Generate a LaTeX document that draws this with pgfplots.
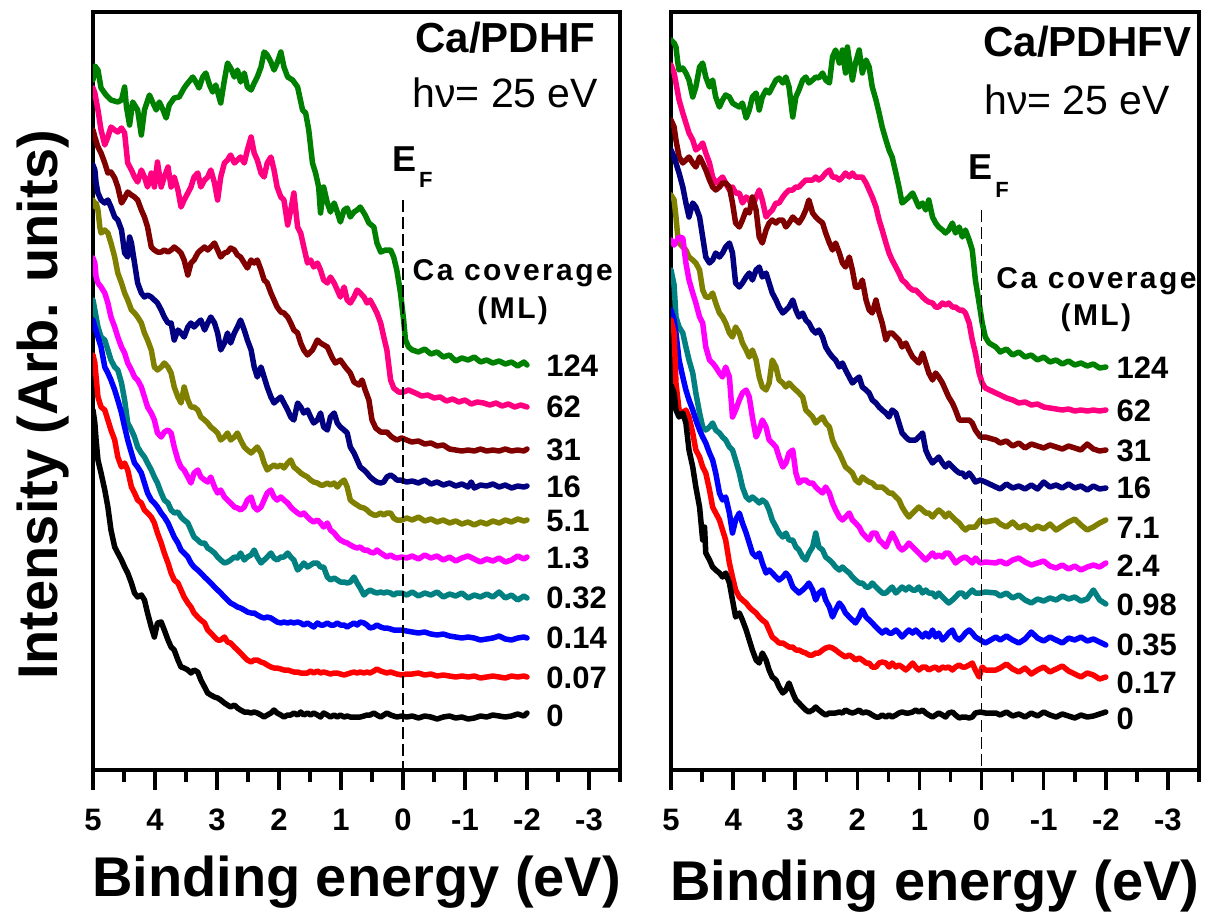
\documentclass[border=0pt]{standalone}
\usepackage{fontspec}
\setmainfont{Liberation Sans}
\newfontfamily\spacedsans{Liberation Sans}[LetterSpace=8]
\usepackage{pgfplots}
\pgfplotsset{compat=1.18}

\definecolor{cvgreen}{RGB}{0,128,0}
\definecolor{cvpink}{RGB}{255,0,128}
\definecolor{cvmaroon}{RGB}{128,0,0}
\definecolor{cvnavy}{RGB}{0,0,128}
\definecolor{cvolive}{RGB}{128,128,0}
\definecolor{cvmagenta}{RGB}{255,0,255}
\definecolor{cvteal}{RGB}{0,128,128}
\definecolor{cvblue}{RGB}{0,0,255}
\definecolor{cvred}{RGB}{255,0,0}

\newcommand{\fs}[1]{\fontsize{#1pt}{#1pt}\selectfont}

% common look of both valence-band panels (offset spectra, no intensity scale)
\pgfplotsset{
  spectrum/.style={
    scale only axis,
    height=758pt,
    xmin=-3.5, xmax=5, x dir=reverse,
    ymin=12, ymax=770, y dir=reverse,
    axis line style={line width=3.5pt},
    xtick={5,4,3,2,1,0,-1,-2,-3},
    xticklabels={5,4,3,2,1,0,-1,-2,-3},
    minor xtick={4.5,3.5,2.5,1.5,0.5,-0.5,-1.5,-2.5,-3.5},
    xtick pos=left,
    ytick=\empty,
    tick align=outside,
    major tick length=20pt,
    minor tick length=12pt,
    tick style={line width=3.5pt, black},
    xticklabel style={font=\bfseries\fs{31}, inner sep=0pt, anchor=north, yshift=-19pt},
    xlabel={Binding energy (eV)},
    xlabel style={anchor=base, font=\bfseries\fs{56}},
  },
}
\tikzset{
  specline/.style={line width=5.5pt, line join=round, line cap=round, mark=none},
  covlabel/.style={anchor=west, font=\bfseries\fs{31}, inner sep=0pt},
  covhead/.style={font=\spacedsans\bfseries\fs{30}},
  fermi/.style={black, line width=1.3pt, dash pattern=on 12pt off 5pt},
}

\begin{document}
\begin{tikzpicture}
\useasboundingbox (0,0) rectangle (1209pt,918pt);

% ---------------- Ca/PDHF ----------------
\begin{axis}[spectrum, at={(93pt,148pt)}, anchor=south west, width=527pt,
  xlabel style={at={(axis description cs:0.5,-0.1675)}},
  ylabel={Intensity (Arb. units)},
  ylabel style={at={(axis description cs:-0.0664,0.4815)}, anchor=base, font=\bfseries\fs{56}}]

\addplot[cvgreen, specline] coordinates {(5.00,80) (4.97,66) (4.92,70) (4.87,88) (4.79,95) (4.71,100) (4.60,102) (4.54,100) (4.49,87) (4.46,107) (4.41,125) (4.36,102) (4.28,110) (4.22,135) (4.17,110) (4.09,95) (4.04,102) (3.98,110) (3.93,102) (3.87,110) (3.82,118) (3.77,105) (3.69,98) (3.61,97) (3.53,88) (3.47,83) (3.39,77) (3.34,82) (3.29,88) (3.23,77) (3.18,73) (3.12,85) (3.07,92) (3.02,85) (2.94,103) (2.88,80) (2.83,63) (2.78,68) (2.72,77) (2.67,70) (2.62,82) (2.56,73) (2.51,87) (2.45,90) (2.40,83) (2.35,77) (2.29,67) (2.24,52) (2.19,55) (2.13,62) (2.08,70) (2.03,63) (1.97,52) (1.92,67) (1.86,77) (1.78,80) (1.70,87) (1.62,110) (1.57,113) (1.52,130) (1.46,163) (1.41,173) (1.36,187) (1.33,213) (1.28,187) (1.22,203) (1.17,212) (1.11,203) (1.06,212) (1.01,222) (0.95,210) (0.90,208) (0.85,217) (0.79,212) (0.74,210) (0.69,207) (0.61,215) (0.55,223) (0.47,227) (0.42,243) (0.36,252) (0.28,250) (0.20,250) (0.15,257) (0.10,270) (0.04,293) (-0.01,320) (-0.04,340) (-0.09,347) (-0.15,350) (-0.25,352) (-0.35,349) (-0.45,354) (-0.55,352) (-0.65,357) (-0.75,355) (-0.85,361) (-0.95,358) (-1.05,360) (-1.15,357) (-1.25,362) (-1.35,360) (-1.45,363) (-1.55,361) (-1.65,364) (-1.75,362) (-1.85,366) (-1.95,362) (-2.00,365)};

\addplot[cvpink, specline] coordinates {(5.00,88) (4.97,93) (4.92,110) (4.87,130) (4.81,145) (4.76,137) (4.71,127) (4.65,130) (4.60,132) (4.54,128) (4.49,133) (4.44,163) (4.38,170) (4.33,177) (4.28,182) (4.22,170) (4.17,177) (4.12,187) (4.06,173) (4.01,187) (3.96,162) (3.90,187) (3.85,177) (3.79,167) (3.74,187) (3.69,177) (3.63,190) (3.58,207) (3.53,200) (3.47,193) (3.42,187) (3.37,177) (3.31,173) (3.26,187) (3.20,180) (3.15,177) (3.10,170) (3.04,183) (2.99,200) (2.94,177) (2.88,163) (2.83,160) (2.78,155) (2.72,163) (2.67,160) (2.62,157) (2.56,163) (2.51,150) (2.45,137) (2.40,153) (2.35,160) (2.29,173) (2.24,177) (2.19,163) (2.13,157) (2.08,170) (2.03,187) (1.97,197) (1.92,200) (1.86,225) (1.81,210) (1.76,193) (1.70,227) (1.65,233) (1.60,247) (1.54,263) (1.49,260) (1.44,267) (1.38,263) (1.33,270) (1.28,280) (1.22,283) (1.17,277) (1.11,283) (1.06,290) (1.01,297) (0.95,287) (0.90,300) (0.85,303) (0.79,297) (0.74,290) (0.69,293) (0.63,297) (0.58,303) (0.53,300) (0.47,307) (0.42,313) (0.36,323) (0.31,337) (0.26,350) (0.20,380) (0.15,388) (0.07,392) (-0.01,392) (-0.09,390) (-0.20,393) (-0.30,396) (-0.40,395) (-0.50,398) (-0.60,397) (-0.70,401) (-0.80,399) (-0.90,402) (-1.00,400) (-1.10,404) (-1.20,402) (-1.30,403) (-1.40,405) (-1.50,403) (-1.60,406) (-1.70,404) (-1.80,407) (-1.90,405) (-2.00,407)};

\addplot[cvmaroon, specline] coordinates {(5.00,130) (4.97,137) (4.92,147) (4.87,153) (4.81,163) (4.76,173) (4.71,172) (4.65,178) (4.60,187) (4.54,203) (4.49,198) (4.44,192) (4.38,195) (4.33,197) (4.28,200) (4.22,210) (4.17,217) (4.12,227) (4.06,247) (4.01,250) (3.96,252) (3.90,252) (3.85,250) (3.79,252) (3.74,250) (3.69,247) (3.63,250) (3.58,253) (3.53,260) (3.47,275) (3.42,263) (3.37,260) (3.31,253) (3.26,250) (3.20,247) (3.15,250) (3.10,247) (3.04,243) (2.99,250) (2.94,257) (2.88,253) (2.83,252) (2.78,248) (2.72,250) (2.67,255) (2.62,257) (2.56,263) (2.51,268) (2.45,260) (2.40,263) (2.35,260) (2.29,270) (2.24,280) (2.19,283) (2.13,293) (2.08,300) (2.03,307) (1.97,312) (1.92,313) (1.86,317) (1.81,323) (1.76,330) (1.70,333) (1.65,343) (1.60,350) (1.54,355) (1.46,350) (1.38,340) (1.33,343) (1.22,347) (1.14,358) (1.09,363) (1.01,360) (0.93,367) (0.85,373) (0.79,382) (0.71,385) (0.66,380) (0.61,390) (0.55,400) (0.50,420) (0.44,428) (0.36,432) (0.26,432) (0.18,437) (0.10,440) (0.02,438) (-0.06,440) (-0.14,442) (-0.25,441) (-0.35,444) (-0.45,443) (-0.55,446) (-0.65,445) (-0.75,449) (-0.85,450) (-0.95,451) (-1.05,450) (-1.15,451) (-1.25,449) (-1.35,451) (-1.45,450) (-1.55,451) (-1.65,449) (-1.75,451) (-1.85,450) (-1.95,451) (-2.00,449)};

\addplot[cvnavy, specline] coordinates {(5.00,165) (4.97,170) (4.95,183) (4.92,193) (4.87,200) (4.81,203) (4.76,200) (4.71,207) (4.65,217) (4.60,220) (4.54,230) (4.49,253) (4.44,257) (4.41,237) (4.38,243) (4.33,263) (4.28,283) (4.22,293) (4.17,297) (4.12,295) (4.06,297) (4.01,300) (3.96,303) (3.90,310) (3.85,317) (3.79,323) (3.74,323) (3.69,340) (3.63,330) (3.58,333) (3.53,337) (3.47,327) (3.42,323) (3.37,327) (3.31,323) (3.26,320) (3.20,330) (3.15,323) (3.10,317) (3.04,323) (2.99,333) (2.94,350) (2.88,343) (2.83,333) (2.78,343) (2.72,333) (2.67,327) (2.62,320) (2.56,330) (2.51,340) (2.45,350) (2.40,367) (2.35,377) (2.29,367) (2.24,377) (2.19,387) (2.13,397) (2.08,403) (2.03,400) (1.97,397) (1.92,403) (1.86,410) (1.81,417) (1.76,420) (1.70,403) (1.65,407) (1.60,413) (1.54,410) (1.49,417) (1.44,423) (1.38,420) (1.33,413) (1.28,427) (1.22,430) (1.17,417) (1.11,413) (1.06,423) (1.01,427) (0.95,430) (0.90,433) (0.85,447) (0.79,453) (0.74,460) (0.69,467) (0.63,470) (0.58,473) (0.53,477) (0.47,480) (0.42,482) (0.36,483) (0.31,482) (0.26,477) (0.20,475) (0.15,477) (0.10,480) (0.04,480) (-0.06,482) (-0.15,481) (-0.25,483) (-0.35,480) (-0.45,484) (-0.55,482) (-0.65,485) (-0.75,483) (-0.85,486) (-0.95,484) (-1.05,487) (-1.10,482) (-1.15,488) (-1.25,485) (-1.35,486) (-1.45,484) (-1.55,487) (-1.65,485) (-1.75,488) (-1.85,486) (-1.95,487) (-2.00,486)};

\addplot[cvolive, specline] coordinates {(5.00,200) (4.97,207) (4.95,203) (4.92,210) (4.89,227) (4.87,233) (4.81,230) (4.76,233) (4.71,243) (4.65,257) (4.60,273) (4.54,283) (4.49,293) (4.44,300) (4.38,310) (4.33,313) (4.28,317) (4.22,323) (4.17,333) (4.12,340) (4.06,350) (4.01,367) (3.96,370) (3.90,367) (3.85,363) (3.79,367) (3.74,373) (3.69,387) (3.63,397) (3.58,403) (3.53,387) (3.47,400) (3.42,407) (3.37,407) (3.31,410) (3.26,417) (3.20,420) (3.15,423) (3.10,427) (3.04,430) (2.99,433) (2.94,440) (2.88,437) (2.83,433) (2.78,440) (2.72,437) (2.67,433) (2.62,440) (2.56,447) (2.51,450) (2.45,453) (2.40,450) (2.35,447) (2.29,453) (2.24,463) (2.19,470) (2.13,467) (2.08,465) (2.03,467) (1.97,465) (1.92,468) (1.86,463) (1.81,460) (1.76,467) (1.70,470) (1.65,473) (1.60,475) (1.54,477) (1.49,480) (1.44,482) (1.38,483) (1.33,485) (1.28,485) (1.22,483) (1.17,485) (1.11,483) (1.06,487) (1.01,483) (0.95,480) (0.90,487) (0.85,500) (0.79,503) (0.74,505) (0.69,507) (0.63,508) (0.58,510) (0.53,513) (0.47,515) (0.42,515) (0.36,513) (0.31,515) (0.26,513) (0.20,513) (0.15,518) (0.10,520) (0.02,520) (-0.06,518) (-0.15,520) (-0.25,517) (-0.35,521) (-0.45,519) (-0.55,522) (-0.65,520) (-0.75,523) (-0.85,521) (-0.95,524) (-1.05,522) (-1.15,525) (-1.25,522) (-1.35,524) (-1.45,521) (-1.55,523) (-1.65,520) (-1.75,522) (-1.85,519) (-1.95,521) (-2.00,520)};

\addplot[cvmagenta, specline] coordinates {(5.00,258) (4.97,263) (4.95,277) (4.92,283) (4.87,287) (4.81,293) (4.76,303) (4.71,317) (4.65,327) (4.60,337) (4.54,347) (4.49,353) (4.44,363) (4.38,370) (4.33,377) (4.28,380) (4.22,387) (4.17,397) (4.12,407) (4.06,413) (4.01,420) (3.96,433) (3.90,437) (3.85,432) (3.79,430) (3.74,433) (3.69,447) (3.63,460) (3.58,467) (3.53,470) (3.47,477) (3.42,483) (3.37,473) (3.31,470) (3.26,477) (3.20,480) (3.15,482) (3.10,477) (3.04,487) (2.99,493) (2.94,490) (2.88,497) (2.83,500) (2.78,503) (2.72,507) (2.67,508) (2.62,510) (2.56,507) (2.51,500) (2.45,497) (2.40,507) (2.35,510) (2.29,507) (2.24,500) (2.19,493) (2.13,490) (2.08,497) (2.03,500) (1.97,497) (1.92,500) (1.86,503) (1.81,507) (1.76,510) (1.70,513) (1.65,515) (1.60,513) (1.54,517) (1.49,520) (1.44,522) (1.38,520) (1.33,523) (1.28,527) (1.22,523) (1.17,530) (1.11,533) (1.06,537) (1.01,540) (0.95,542) (0.90,543) (0.85,545) (0.79,547) (0.74,548) (0.69,547) (0.63,550) (0.58,550) (0.53,552) (0.47,553) (0.42,550) (0.36,553) (0.31,555) (0.26,557) (0.20,555) (0.15,557) (0.10,558) (0.02,557) (-0.06,558) (-0.15,556) (-0.25,559) (-0.35,555) (-0.45,558) (-0.55,556) (-0.65,560) (-0.75,557) (-0.85,561) (-0.95,558) (-1.05,556) (-1.15,559) (-1.25,562) (-1.35,559) (-1.45,561) (-1.55,558) (-1.65,562) (-1.75,560) (-1.85,556) (-1.95,559) (-2.00,557)};

\addplot[cvteal, specline] coordinates {(5.00,300) (4.97,310) (4.92,327) (4.87,337) (4.81,340) (4.76,350) (4.71,360) (4.65,367) (4.60,370) (4.54,383) (4.49,400) (4.44,423) (4.38,430) (4.33,437) (4.28,447) (4.22,453) (4.17,457) (4.12,463) (4.06,470) (4.01,477) (3.96,483) (3.90,493) (3.85,500) (3.79,503) (3.74,510) (3.69,513) (3.63,512) (3.58,517) (3.53,520) (3.47,523) (3.42,530) (3.37,537) (3.31,540) (3.26,543) (3.20,543) (3.15,548) (3.10,550) (3.04,553) (2.99,557) (2.94,560) (2.88,563) (2.83,562) (2.78,560) (2.72,557) (2.67,558) (2.62,553) (2.56,560) (2.51,557) (2.45,555) (2.40,550) (2.35,557) (2.29,563) (2.24,560) (2.19,557) (2.13,553) (2.08,558) (2.03,560) (1.97,557) (1.92,557) (1.86,553) (1.81,557) (1.76,560) (1.70,570) (1.65,567) (1.60,563) (1.54,567) (1.49,565) (1.44,563) (1.38,563) (1.33,567) (1.28,567) (1.22,577) (1.17,580) (1.11,578) (1.06,580) (1.01,582) (0.95,582) (0.90,583) (0.85,582) (0.79,577) (0.74,583) (0.69,588) (0.63,595) (0.58,592) (0.53,590) (0.47,592) (0.42,593) (0.36,592) (0.31,593) (0.26,592) (0.20,593) (0.15,595) (0.10,593) (0.02,593) (-0.06,595) (-0.15,592) (-0.25,596) (-0.35,593) (-0.45,595) (-0.55,592) (-0.65,597) (-0.75,594) (-0.85,596) (-0.95,593) (-1.05,598) (-1.15,595) (-1.25,597) (-1.35,594) (-1.45,597) (-1.55,592) (-1.65,598) (-1.75,595) (-1.85,600) (-1.95,596) (-2.00,598)};

\addplot[cvblue, specline] coordinates {(5.00,320) (4.97,327) (4.92,337) (4.87,347) (4.81,367) (4.76,373) (4.71,380) (4.65,390) (4.60,400) (4.54,413) (4.49,427) (4.44,440) (4.38,453) (4.33,463) (4.28,467) (4.22,473) (4.17,483) (4.12,493) (4.06,500) (4.01,503) (3.96,507) (3.90,513) (3.85,517) (3.79,523) (3.74,530) (3.69,537) (3.63,543) (3.58,550) (3.53,553) (3.47,557) (3.42,563) (3.37,567) (3.31,570) (3.26,573) (3.20,577) (3.15,580) (3.10,583) (3.04,587) (2.99,590) (2.94,593) (2.88,597) (2.83,600) (2.78,603) (2.72,605) (2.67,607) (2.62,608) (2.56,610) (2.51,612) (2.45,613) (2.40,613) (2.35,615) (2.29,617) (2.24,618) (2.19,617) (2.13,618) (2.08,620) (2.03,622) (1.97,623) (1.92,622) (1.86,623) (1.81,622) (1.76,623) (1.70,622) (1.65,623) (1.60,625) (1.54,623) (1.49,625) (1.44,627) (1.38,623) (1.33,625) (1.28,625) (1.22,623) (1.17,625) (1.11,625) (1.06,623) (1.01,625) (0.95,625) (0.90,627) (0.85,625) (0.79,623) (0.74,625) (0.69,622) (0.63,623) (0.58,625) (0.53,628) (0.47,627) (0.42,625) (0.36,627) (0.31,628) (0.26,628) (0.20,629) (0.15,630) (0.10,630) (0.02,630) (-0.06,631) (-0.15,632) (-0.25,633) (-0.35,632) (-0.45,634) (-0.55,635) (-0.65,634) (-0.75,636) (-0.85,637) (-0.95,638) (-1.05,637) (-1.15,638) (-1.25,640) (-1.35,639) (-1.45,638) (-1.55,636) (-1.65,639) (-1.75,640) (-1.85,638) (-1.95,637) (-2.00,638)};

\addplot[cvred, specline] coordinates {(5.00,355) (4.97,363) (4.95,377) (4.92,397) (4.87,407) (4.81,410) (4.76,420) (4.71,430) (4.65,440) (4.60,457) (4.54,467) (4.49,463) (4.44,470) (4.38,487) (4.33,493) (4.28,500) (4.22,503) (4.17,510) (4.12,513) (4.06,517) (4.01,523) (3.96,533) (3.90,543) (3.85,553) (3.79,563) (3.74,573) (3.69,580) (3.63,583) (3.58,590) (3.53,597) (3.47,603) (3.42,607) (3.37,613) (3.31,617) (3.26,620) (3.20,623) (3.15,630) (3.10,633) (3.04,637) (2.99,640) (2.94,640) (2.88,637) (2.83,642) (2.78,643) (2.72,647) (2.67,650) (2.62,653) (2.56,657) (2.51,660) (2.45,662) (2.40,660) (2.35,660) (2.29,662) (2.24,663) (2.19,665) (2.13,667) (2.08,668) (2.03,668) (1.97,669) (1.92,670) (1.86,670) (1.81,671) (1.76,672) (1.70,672) (1.65,673) (1.60,673) (1.54,673) (1.49,671) (1.44,673) (1.38,671) (1.33,673) (1.28,672) (1.22,673) (1.17,674) (1.11,673) (1.06,673) (1.01,674) (0.95,675) (0.90,674) (0.85,673) (0.79,672) (0.74,673) (0.69,672) (0.63,673) (0.58,672) (0.53,673) (0.47,671) (0.42,669) (0.36,671) (0.31,672) (0.26,673) (0.20,672) (0.15,673) (0.10,674) (0.02,675) (-0.06,674) (-0.15,674) (-0.25,673) (-0.35,675) (-0.45,674) (-0.55,676) (-0.65,675) (-0.75,676) (-0.85,677) (-0.95,676) (-1.05,677) (-1.15,676) (-1.25,678) (-1.35,677) (-1.45,676) (-1.55,677) (-1.65,678) (-1.75,676) (-1.85,677) (-1.95,676) (-2.00,677)};

\addplot[black, specline] coordinates {(5.00,410) (4.97,423) (4.95,440) (4.92,460) (4.87,473) (4.81,490) (4.76,507) (4.71,530) (4.65,547) (4.60,553) (4.54,560) (4.49,567) (4.44,573) (4.38,583) (4.33,593) (4.28,597) (4.22,595) (4.17,600) (4.12,613) (4.06,627) (4.01,637) (3.96,623) (3.90,622) (3.85,630) (3.79,640) (3.74,647) (3.69,650) (3.63,660) (3.58,667) (3.53,668) (3.47,670) (3.42,673) (3.37,670) (3.31,672) (3.26,680) (3.20,687) (3.15,693) (3.10,695) (3.04,697) (2.99,698) (2.94,700) (2.88,703) (2.83,705) (2.78,707) (2.72,705) (2.67,708) (2.62,710) (2.56,712) (2.51,712) (2.45,713) (2.40,712) (2.35,713) (2.29,715) (2.24,717) (2.19,715) (2.13,713) (2.08,710) (2.03,713) (1.97,715) (1.92,717) (1.86,715) (1.81,715) (1.76,713) (1.70,715) (1.65,712) (1.60,715) (1.54,713) (1.49,715) (1.44,713) (1.38,715) (1.33,717) (1.28,713) (1.22,715) (1.17,717) (1.11,715) (1.06,717) (1.01,715) (0.95,717) (0.90,716) (0.85,717) (0.79,717) (0.74,717) (0.69,717) (0.63,716) (0.58,715) (0.53,715) (0.47,713) (0.42,715) (0.36,717) (0.31,715) (0.26,713) (0.20,715) (0.15,716) (0.10,717) (0.02,716) (-0.06,717) (-0.15,716) (-0.25,718) (-0.35,716) (-0.45,717) (-0.55,719) (-0.65,717) (-0.75,716) (-0.85,718) (-0.95,717) (-1.05,719) (-1.15,718) (-1.25,716) (-1.35,717) (-1.45,715) (-1.55,716) (-1.65,717) (-1.75,716) (-1.85,714) (-1.95,716) (-2.00,713)};

\draw[fermi] (axis cs:0,200) -- (axis cs:0,770);

\node[font=\bfseries\fs{42}] at (axis cs:-1.65,38) {Ca/PDHF};
\node[font=\fs{41}] at (axis cs:-1.65,93) {hν= 25 eV};
\node[font=\bfseries\fs{36}] at (axis cs:-0.03,159) {E};
\node[font=\bfseries\fs{22}] at (axis cs:-0.37,180) {F};
\node[covhead] at (axis cs:-1.77,273) {Ca coverage};
\node[covhead] at (axis cs:-1.77,311) {(ML)};

\node[covlabel] at (axis cs:-2.31,366) {124};
\node[covlabel] at (axis cs:-2.31,407) {62};
\node[covlabel] at (axis cs:-2.31,450) {31};
\node[covlabel] at (axis cs:-2.31,487) {16};
\node[covlabel] at (axis cs:-2.31,521) {5.1};
\node[covlabel] at (axis cs:-2.31,558) {1.3};
\node[covlabel] at (axis cs:-2.31,598) {0.32};
\node[covlabel] at (axis cs:-2.31,638) {0.14};
\node[covlabel] at (axis cs:-2.31,678) {0.07};
\node[covlabel] at (axis cs:-2.31,716) {0};
\end{axis}

% ---------------- Ca/PDHFV ----------------
\begin{axis}[spectrum, at={(671pt,148pt)}, anchor=south west, width=528pt,
  xlabel style={at={(axis description cs:0.5,-0.1715)}}]

\addplot[cvgreen, specline] coordinates {(5.00,40) (4.95,43) (4.92,47) (4.89,63) (4.87,70) (4.81,68) (4.76,73) (4.71,80) (4.65,97) (4.60,87) (4.54,67) (4.49,63) (4.44,77) (4.38,87) (4.33,80) (4.28,97) (4.22,107) (4.17,100) (4.12,95) (4.06,97) (4.01,103) (3.96,105) (3.90,107) (3.85,103) (3.79,118) (3.74,110) (3.69,97) (3.63,93) (3.58,110) (3.53,97) (3.47,90) (3.42,93) (3.37,87) (3.31,80) (3.26,78) (3.20,83) (3.15,77) (3.10,87) (3.04,117) (2.99,97) (2.94,90) (2.88,80) (2.83,77) (2.78,83) (2.72,80) (2.67,77) (2.62,78) (2.56,73) (2.51,80) (2.45,83) (2.40,57) (2.35,50) (2.29,63) (2.24,50) (2.19,73) (2.16,47) (2.13,60) (2.08,80) (2.03,63) (1.97,50) (1.92,73) (1.86,60) (1.81,67) (1.76,87) (1.70,100) (1.65,113) (1.60,127) (1.54,140) (1.49,150) (1.44,157) (1.38,173) (1.33,187) (1.28,203) (1.22,200) (1.17,197) (1.11,193) (1.06,200) (1.01,207) (0.95,203) (0.90,210) (0.85,200) (0.79,217) (0.74,223) (0.69,227) (0.63,230) (0.58,233) (0.53,230) (0.47,223) (0.42,233) (0.36,227) (0.31,237) (0.26,230) (0.20,240) (0.15,250) (0.10,280) (0.04,303) (-0.01,323) (-0.06,337) (-0.12,343) (-0.23,347) (-0.30,352) (-0.40,349) (-0.50,355) (-0.60,352) (-0.70,357) (-0.80,355) (-0.90,360) (-1.00,357) (-1.10,362) (-1.20,360) (-1.30,364) (-1.40,361) (-1.50,365) (-1.60,363) (-1.70,366) (-1.80,364) (-1.90,368) (-2.00,367)};

\addplot[cvpink, specline] coordinates {(5.00,65) (4.95,73) (4.92,83) (4.87,100) (4.81,113) (4.76,123) (4.71,133) (4.65,140) (4.60,150) (4.54,147) (4.49,143) (4.44,153) (4.38,163) (4.33,177) (4.28,183) (4.22,180) (4.17,177) (4.12,183) (4.06,190) (4.01,187) (3.96,193) (3.90,193) (3.85,203) (3.79,197) (3.74,200) (3.69,207) (3.63,197) (3.58,190) (3.53,200) (3.47,217) (3.42,213) (3.37,210) (3.31,203) (3.26,203) (3.20,197) (3.15,193) (3.10,190) (3.04,190) (2.99,187) (2.94,187) (2.88,183) (2.83,180) (2.78,180) (2.72,180) (2.67,177) (2.62,180) (2.56,177) (2.51,173) (2.45,170) (2.40,177) (2.35,177) (2.29,180) (2.24,177) (2.19,173) (2.13,177) (2.08,173) (2.03,177) (1.97,177) (1.92,177) (1.86,183) (1.81,190) (1.76,197) (1.70,207) (1.65,220) (1.60,230) (1.54,243) (1.49,253) (1.44,260) (1.38,267) (1.33,273) (1.28,280) (1.22,283) (1.17,287) (1.11,290) (1.06,290) (1.01,293) (0.95,297) (0.90,300) (0.85,302) (0.79,303) (0.74,307) (0.69,307) (0.63,303) (0.58,305) (0.53,303) (0.47,307) (0.42,307) (0.36,310) (0.31,310) (0.26,313) (0.20,323) (0.15,340) (0.10,353) (0.04,373) (-0.01,383) (-0.06,388) (-0.23,393) (-0.30,395) (-0.40,398) (-0.50,400) (-0.60,403) (-0.70,402) (-0.80,405) (-0.90,404) (-1.00,407) (-1.10,408) (-1.20,409) (-1.30,410) (-1.40,409) (-1.50,411) (-1.60,410) (-1.70,411) (-1.80,410) (-1.90,411) (-2.00,410)};

\addplot[cvmaroon, specline] coordinates {(5.00,120) (4.95,127) (4.92,140) (4.87,157) (4.81,163) (4.76,160) (4.71,157) (4.65,163) (4.60,167) (4.54,157) (4.49,163) (4.44,170) (4.38,180) (4.33,187) (4.28,190) (4.22,187) (4.17,183) (4.12,183) (4.06,187) (4.01,203) (3.96,223) (3.90,227) (3.85,220) (3.79,210) (3.74,213) (3.69,197) (3.63,210) (3.58,237) (3.53,243) (3.47,230) (3.42,223) (3.37,220) (3.31,223) (3.26,220) (3.20,220) (3.15,227) (3.10,223) (3.04,217) (2.99,220) (2.94,223) (2.88,217) (2.83,210) (2.78,200) (2.72,213) (2.67,217) (2.62,220) (2.56,223) (2.51,233) (2.45,243) (2.40,250) (2.35,243) (2.29,253) (2.24,263) (2.19,267) (2.13,257) (2.08,270) (2.03,287) (1.97,287) (1.92,280) (1.86,300) (1.81,310) (1.76,313) (1.70,300) (1.65,313) (1.60,323) (1.54,340) (1.49,333) (1.44,333) (1.38,337) (1.33,340) (1.28,347) (1.22,343) (1.17,350) (1.11,357) (1.06,360) (1.01,363) (0.95,353) (0.90,363) (0.85,373) (0.79,380) (0.74,373) (0.69,377) (0.63,383) (0.58,390) (0.53,397) (0.47,403) (0.42,410) (0.36,420) (0.31,420) (0.26,420) (0.20,420) (0.15,423) (0.10,430) (0.02,437) (-0.06,437) (-0.23,440) (-0.30,443) (-0.40,441) (-0.50,446) (-0.60,443) (-0.70,448) (-0.80,444) (-0.90,446) (-1.00,448) (-1.10,445) (-1.20,447) (-1.30,449) (-1.40,446) (-1.50,448) (-1.60,450) (-1.70,444) (-1.80,449) (-1.90,451) (-2.00,450)};

\addplot[cvnavy, specline] coordinates {(5.00,150) (4.95,157) (4.92,163) (4.87,173) (4.81,187) (4.76,203) (4.71,217) (4.65,203) (4.60,207) (4.54,217) (4.49,237) (4.44,257) (4.38,263) (4.33,260) (4.28,253) (4.22,257) (4.17,253) (4.12,247) (4.06,243) (4.01,253) (3.96,283) (3.90,287) (3.85,283) (3.79,277) (3.74,273) (3.69,280) (3.63,270) (3.58,267) (3.53,277) (3.47,273) (3.42,283) (3.37,293) (3.31,300) (3.26,307) (3.20,313) (3.15,310) (3.10,307) (3.04,300) (2.99,310) (2.94,317) (2.88,313) (2.83,320) (2.78,323) (2.72,330) (2.67,333) (2.62,330) (2.56,337) (2.51,347) (2.45,353) (2.40,357) (2.35,360) (2.29,367) (2.24,363) (2.19,370) (2.13,377) (2.08,383) (2.03,380) (1.97,377) (1.92,387) (1.86,390) (1.81,393) (1.76,400) (1.70,403) (1.65,407) (1.60,410) (1.54,413) (1.49,417) (1.44,410) (1.38,413) (1.33,423) (1.28,433) (1.22,437) (1.17,440) (1.11,440) (1.06,440) (1.01,437) (0.95,433) (0.90,450) (0.85,457) (0.79,463) (0.74,460) (0.69,457) (0.63,463) (0.58,467) (0.53,463) (0.47,467) (0.42,470) (0.36,473) (0.31,473) (0.26,477) (0.20,473) (0.15,477) (0.10,482) (0.02,480) (-0.06,482) (-0.23,487) (-0.30,489) (-0.40,484) (-0.50,488) (-0.60,486) (-0.70,489) (-0.80,485) (-0.90,489) (-1.00,482) (-1.10,487) (-1.20,485) (-1.30,488) (-1.40,484) (-1.50,488) (-1.60,486) (-1.70,490) (-1.80,486) (-1.90,489) (-2.00,488)};

\addplot[cvolive, specline] coordinates {(5.00,195) (4.95,200) (4.92,217) (4.89,237) (4.87,243) (4.81,247) (4.76,250) (4.71,257) (4.65,260) (4.60,263) (4.54,270) (4.49,290) (4.44,297) (4.38,297) (4.33,293) (4.28,303) (4.22,313) (4.17,317) (4.12,323) (4.06,333) (4.01,337) (3.96,327) (3.90,333) (3.85,343) (3.79,350) (3.74,357) (3.69,350) (3.63,360) (3.58,377) (3.53,387) (3.47,390) (3.42,383) (3.37,360) (3.31,367) (3.26,380) (3.20,383) (3.15,387) (3.10,383) (3.04,387) (2.99,390) (2.94,393) (2.88,397) (2.83,410) (2.78,413) (2.72,417) (2.67,423) (2.62,420) (2.56,417) (2.51,423) (2.45,427) (2.40,440) (2.35,447) (2.29,453) (2.24,460) (2.19,467) (2.13,470) (2.08,473) (2.03,480) (1.97,483) (1.92,477) (1.86,480) (1.81,482) (1.76,483) (1.70,487) (1.65,487) (1.60,487) (1.54,490) (1.49,493) (1.44,493) (1.38,497) (1.33,500) (1.28,507) (1.22,513) (1.17,517) (1.11,513) (1.06,510) (1.01,507) (0.95,510) (0.90,513) (0.85,513) (0.79,517) (0.74,513) (0.69,510) (0.63,513) (0.58,517) (0.53,513) (0.47,517) (0.42,520) (0.36,523) (0.31,527) (0.26,530) (0.20,527) (0.15,527) (0.10,527) (0.02,520) (-0.06,522) (-0.23,520) (-0.30,524) (-0.40,527) (-0.50,522) (-0.60,528) (-0.70,525) (-0.80,530) (-0.90,526) (-1.00,529) (-1.10,524) (-1.20,530) (-1.30,526) (-1.40,522) (-1.50,519) (-1.60,525) (-1.70,530) (-1.80,527) (-1.90,523) (-2.00,520)};

\addplot[cvmagenta, specline] coordinates {(5.00,240) (4.95,245) (4.87,237) (4.81,238) (4.76,263) (4.71,280) (4.65,293) (4.60,303) (4.54,317) (4.49,323) (4.44,347) (4.38,360) (4.33,363) (4.28,367) (4.22,373) (4.17,377) (4.12,367) (4.06,377) (4.01,417) (3.96,410) (3.90,400) (3.85,393) (3.79,390) (3.74,397) (3.69,417) (3.63,437) (3.58,430) (3.53,420) (3.47,427) (3.42,440) (3.37,443) (3.31,447) (3.26,457) (3.20,467) (3.15,463) (3.10,453) (3.04,450) (2.99,473) (2.94,483) (2.88,480) (2.83,480) (2.78,483) (2.72,483) (2.67,487) (2.62,490) (2.56,493) (2.51,487) (2.45,493) (2.40,503) (2.35,510) (2.29,517) (2.24,520) (2.19,517) (2.13,513) (2.08,520) (2.03,523) (1.97,527) (1.92,533) (1.86,537) (1.81,540) (1.76,533) (1.70,533) (1.65,540) (1.60,543) (1.54,547) (1.49,540) (1.44,533) (1.38,540) (1.33,547) (1.28,550) (1.22,547) (1.17,543) (1.11,547) (1.06,550) (1.01,553) (0.95,557) (0.90,560) (0.85,557) (0.79,553) (0.74,557) (0.69,555) (0.63,557) (0.58,553) (0.53,553) (0.47,558) (0.42,563) (0.36,560) (0.31,558) (0.26,557) (0.20,560) (0.15,563) (0.10,558) (0.02,563) (-0.06,562) (-0.23,563) (-0.30,561) (-0.40,564) (-0.50,560) (-0.60,558) (-0.70,562) (-0.80,565) (-0.90,563) (-1.00,561) (-1.10,566) (-1.20,568) (-1.30,565) (-1.40,569) (-1.50,566) (-1.60,570) (-1.70,567) (-1.80,565) (-1.90,567) (-2.00,563)};

\addplot[cvteal, specline] coordinates {(5.00,270) (4.95,285) (4.92,317) (4.87,327) (4.81,333) (4.76,347) (4.71,360) (4.65,373) (4.60,393) (4.54,413) (4.49,427) (4.44,430) (4.38,427) (4.33,423) (4.28,430) (4.22,433) (4.17,437) (4.12,440) (4.06,447) (4.01,450) (3.96,460) (3.90,473) (3.85,487) (3.79,497) (3.74,500) (3.69,497) (3.63,500) (3.58,503) (3.53,500) (3.47,503) (3.42,510) (3.37,520) (3.31,527) (3.26,533) (3.20,537) (3.15,533) (3.10,540) (3.04,540) (2.99,547) (2.94,550) (2.88,557) (2.83,560) (2.78,553) (2.72,547) (2.67,533) (2.62,547) (2.56,550) (2.51,557) (2.45,560) (2.40,563) (2.35,567) (2.29,570) (2.24,567) (2.19,570) (2.13,573) (2.08,577) (2.03,580) (1.97,583) (1.92,583) (1.86,587) (1.81,587) (1.76,583) (1.70,587) (1.65,590) (1.60,593) (1.54,593) (1.49,590) (1.44,587) (1.38,593) (1.33,590) (1.28,587) (1.22,590) (1.17,587) (1.11,590) (1.06,590) (1.01,587) (0.95,593) (0.90,590) (0.85,593) (0.79,593) (0.74,597) (0.69,593) (0.63,597) (0.58,600) (0.53,603) (0.47,600) (0.42,597) (0.36,593) (0.31,593) (0.26,597) (0.20,593) (0.15,590) (0.10,593) (0.02,593) (-0.06,592) (-0.23,593) (-0.30,596) (-0.40,593) (-0.50,598) (-0.60,595) (-0.70,600) (-0.80,603) (-0.90,599) (-1.00,601) (-1.10,598) (-1.20,600) (-1.30,596) (-1.40,599) (-1.50,597) (-1.60,601) (-1.70,599) (-1.80,590) (-1.90,600) (-2.00,604)};

\addplot[cvblue, specline] coordinates {(5.00,310) (4.95,320) (4.92,333) (4.87,360) (4.81,377) (4.76,390) (4.71,400) (4.65,410) (4.60,420) (4.54,430) (4.49,437) (4.44,443) (4.38,453) (4.33,460) (4.28,473) (4.22,493) (4.17,500) (4.12,497) (4.06,513) (4.01,533) (3.96,520) (3.90,513) (3.85,523) (3.79,533) (3.74,543) (3.69,553) (3.63,557) (3.58,553) (3.53,563) (3.47,573) (3.42,570) (3.37,573) (3.31,577) (3.26,580) (3.20,577) (3.15,573) (3.10,577) (3.04,587) (2.99,590) (2.94,593) (2.88,590) (2.83,587) (2.78,583) (2.72,590) (2.67,600) (2.62,593) (2.56,590) (2.51,600) (2.45,607) (2.40,617) (2.35,610) (2.29,603) (2.24,607) (2.19,613) (2.13,617) (2.08,620) (2.03,623) (1.97,617) (1.92,610) (1.86,617) (1.81,620) (1.76,623) (1.70,627) (1.65,630) (1.60,633) (1.54,630) (1.49,633) (1.44,633) (1.38,630) (1.33,633) (1.28,637) (1.22,633) (1.17,630) (1.11,633) (1.06,630) (1.01,633) (0.95,637) (0.90,633) (0.85,637) (0.79,630) (0.74,637) (0.69,633) (0.63,640) (0.58,637) (0.53,633) (0.47,630) (0.42,637) (0.36,640) (0.31,637) (0.26,633) (0.20,630) (0.15,633) (0.10,637) (0.02,640) (-0.06,643) (-0.23,637) (-0.30,640) (-0.40,636) (-0.50,640) (-0.60,643) (-0.70,639) (-0.80,632) (-0.90,638) (-1.00,641) (-1.10,637) (-1.20,640) (-1.30,643) (-1.40,638) (-1.50,640) (-1.60,637) (-1.70,641) (-1.80,639) (-1.90,642) (-2.00,645)};

\addplot[cvred, specline] coordinates {(5.00,320) (4.95,333) (4.92,383) (4.87,410) (4.81,413) (4.76,410) (4.71,417) (4.65,433) (4.60,450) (4.54,457) (4.49,467) (4.44,473) (4.38,490) (4.33,507) (4.28,513) (4.22,520) (4.17,530) (4.12,540) (4.06,563) (4.01,577) (3.96,590) (3.90,597) (3.85,600) (3.79,603) (3.74,607) (3.69,610) (3.63,613) (3.58,617) (3.53,620) (3.47,623) (3.42,630) (3.37,637) (3.31,640) (3.26,643) (3.20,643) (3.15,645) (3.10,647) (3.04,647) (2.99,650) (2.94,650) (2.88,652) (2.83,653) (2.78,655) (2.72,655) (2.67,653) (2.62,653) (2.56,650) (2.51,648) (2.45,647) (2.40,648) (2.35,650) (2.29,653) (2.24,655) (2.19,657) (2.13,655) (2.08,657) (2.03,660) (1.97,658) (1.92,660) (1.86,663) (1.81,663) (1.76,667) (1.70,667) (1.65,663) (1.60,662) (1.54,663) (1.49,667) (1.44,663) (1.38,667) (1.33,665) (1.28,667) (1.22,670) (1.17,667) (1.11,663) (1.06,667) (1.01,670) (0.95,667) (0.90,667) (0.85,670) (0.79,668) (0.74,667) (0.69,670) (0.63,667) (0.58,668) (0.53,667) (0.47,670) (0.42,667) (0.36,665) (0.31,667) (0.26,667) (0.20,665) (0.15,663) (0.10,670) (0.04,677) (-0.01,667) (-0.06,670) (-0.23,670) (-0.30,668) (-0.40,664) (-0.50,669) (-0.60,672) (-0.70,668) (-0.80,674) (-0.90,670) (-1.00,667) (-1.10,672) (-1.20,669) (-1.30,666) (-1.40,671) (-1.50,674) (-1.60,677) (-1.70,673) (-1.80,675) (-1.90,679) (-2.00,677)};

\addplot[black, specline] coordinates {(5.00,385) (4.95,393) (4.92,410) (4.87,417) (4.81,413) (4.76,423) (4.71,450) (4.65,467) (4.60,487) (4.54,507) (4.49,540) (4.46,527) (4.44,553) (4.38,560) (4.33,567) (4.28,570) (4.22,573) (4.17,577) (4.12,573) (4.06,583) (4.01,600) (3.96,617) (3.90,613) (3.85,620) (3.79,630) (3.74,640) (3.69,650) (3.63,660) (3.58,663) (3.53,653) (3.47,660) (3.42,670) (3.37,677) (3.31,680) (3.26,687) (3.20,693) (3.15,690) (3.10,683) (3.04,693) (2.99,700) (2.94,703) (2.88,707) (2.83,710) (2.78,712) (2.72,710) (2.67,707) (2.62,710) (2.56,713) (2.51,715) (2.45,713) (2.40,713) (2.35,713) (2.29,712) (2.24,713) (2.19,710) (2.13,712) (2.08,713) (2.03,712) (1.97,710) (1.92,713) (1.86,712) (1.81,713) (1.76,715) (1.70,717) (1.65,717) (1.60,715) (1.54,717) (1.49,715) (1.44,717) (1.38,715) (1.33,713) (1.28,712) (1.22,713) (1.17,713) (1.11,712) (1.06,710) (1.01,712) (0.95,710) (0.90,713) (0.85,715) (0.79,717) (0.74,715) (0.69,713) (0.63,715) (0.58,717) (0.53,713) (0.47,712) (0.42,715) (0.36,718) (0.31,717) (0.26,717) (0.20,718) (0.15,717) (0.10,713) (0.02,712) (-0.06,713) (-0.23,713) (-0.30,715) (-0.40,712) (-0.50,716) (-0.60,714) (-0.70,717) (-0.80,713) (-0.90,716) (-1.00,712) (-1.10,715) (-1.20,717) (-1.30,714) (-1.40,716) (-1.50,718) (-1.60,715) (-1.70,717) (-1.80,716) (-1.90,714) (-2.00,712)};

\draw[fermi] (axis cs:0,210) -- (axis cs:0,770);

\node[font=\bfseries\fs{42}] at (axis cs:-1.70,42) {Ca/PDHFV};
\node[font=\fs{41}] at (axis cs:-1.54,100) {hν= 25 eV};
\node[font=\bfseries\fs{36}] at (axis cs:0.02,167) {E};
\node[font=\bfseries\fs{22}] at (axis cs:-0.33,190) {F};
\node[covhead] at (axis cs:-1.85,281) {Ca coverage};
\node[covhead] at (axis cs:-1.84,318) {(ML)};

\node[covlabel] at (axis cs:-2.17,368) {124};
\node[covlabel] at (axis cs:-2.17,411) {62};
\node[covlabel] at (axis cs:-2.17,451) {31};
\node[covlabel] at (axis cs:-2.17,488) {16};
\node[covlabel] at (axis cs:-2.17,528) {7.1};
\node[covlabel] at (axis cs:-2.17,566) {2.4};
\node[covlabel] at (axis cs:-2.17,605) {0.98};
\node[covlabel] at (axis cs:-2.17,645) {0.35};
\node[covlabel] at (axis cs:-2.17,683) {0.17};
\node[covlabel] at (axis cs:-2.17,719) {0};
\end{axis}
\end{tikzpicture}
\end{document}
